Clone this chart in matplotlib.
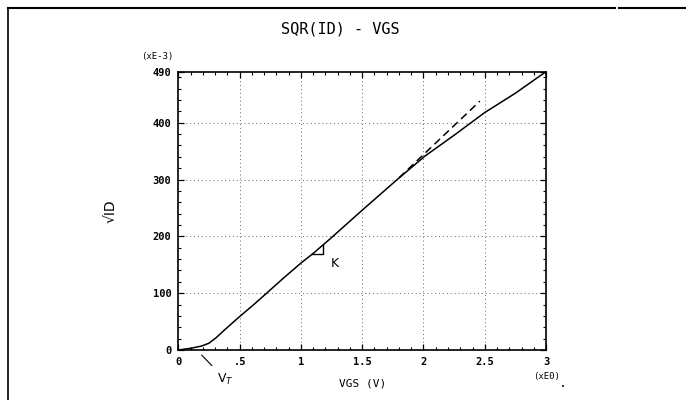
import matplotlib
matplotlib.use("Agg")
import matplotlib.pyplot as plt
from matplotlib.lines import Line2D
from matplotlib.ticker import MultipleLocator, FixedLocator

# sqrt(ID) vs VGS, y in units of 1E-3
vgs = [0.0, 0.10, 0.19, 0.25, 0.31, 0.37, 0.49, 0.61, 0.72, 0.86, 1.00, 1.10,
       1.24, 1.51, 1.78, 2.01, 2.25, 2.50, 2.75, 3.00]
sqrt_id = [0, 3, 7, 12, 22, 34, 57, 79, 100, 127, 153, 170,
           196, 248, 299, 341, 378, 418, 452, 490]

# linear extrapolation of the strong-inversion part
fit_vgs = [1.80, 2.46]
fit_sqrt_id = [303, 438]

# slope triangle K
k_vgs = [1.09, 1.18, 1.18]
k_sqrt_id = [169, 169, 185]

x_ticks = [0, 0.5, 1, 1.5, 2, 2.5, 3]
x_ticklabels = ["0", ".5", "1", "1.5", "2", "2.5", "3"]
y_ticks = [0, 100, 200, 300, 400, 490]
y_ticklabels = ["0", "100", "200", "300", "400", "490"]

mono = "DejaVu Sans Mono"

fig = plt.figure(figsize=(6.86, 4.0), dpi=100)
ax = fig.add_axes([0.260, 0.125, 0.536, 0.696])

ax.plot(vgs, sqrt_id, color="black", lw=1.1)
ax.plot(fit_vgs, fit_sqrt_id, color="black", lw=1.1, dashes=(5, 3))
ax.plot(k_vgs, k_sqrt_id, color="black", lw=1.0)
ax.text(1.24, 152, "K", fontsize=9, ha="left", va="center")

ax.set_xlim(0, 3)
ax.set_ylim(0, 490)

ax.xaxis.set_major_locator(FixedLocator(x_ticks))
ax.yaxis.set_major_locator(FixedLocator(y_ticks))
ax.set_xticklabels(x_ticklabels, fontfamily=mono, fontsize=7.5, fontweight="bold")
ax.set_yticklabels(y_ticklabels, fontfamily=mono, fontsize=7.5, fontweight="bold")
ax.xaxis.set_minor_locator(MultipleLocator(0.1))
ax.yaxis.set_minor_locator(MultipleLocator(20))
ax.tick_params(which="both", direction="in", top=True, right=True, color="black")
ax.tick_params(which="major", length=4, width=0.9, pad=5)
ax.tick_params(which="minor", length=2.5, width=0.8)

for v in x_ticks[1:-1]:
    ax.axvline(v, color="#666666", lw=0.7, ls=(0, (1, 3)), zorder=0)
for v in y_ticks[1:-1]:
    ax.axhline(v, color="#666666", lw=0.7, ls=(0, (1, 3)), zorder=0)

for s in ax.spines.values():
    s.set_linewidth(1.2)

ax.set_xlabel("VGS (V)", fontfamily=mono, fontsize=8, labelpad=8)
ax.set_ylabel("√ID", fontsize=10, labelpad=25)

fig.text(0.496, 0.928, "SQR(ID) - VGS", fontfamily=mono, fontsize=11,
         ha="center", va="center")
fig.text(0.229, 0.858, "(xE-3)", fontfamily=mono, fontsize=6.5,
         ha="center", va="center")
fig.text(0.797, 0.060, "(xE0)", fontfamily=mono, fontsize=6.5,
         ha="center", va="center")
fig.text(0.820, 0.033, "•", fontsize=5, ha="center", va="center")

# threshold voltage marker
ax.annotate("V$_T$", xy=(0.19, -9), xytext=(0.38, -51),
            fontsize=9, ha="center", va="center", annotation_clip=False,
            arrowprops=dict(arrowstyle="-", color="black", lw=0.8,
                            shrinkA=3, shrinkB=0))

# page frame
fig.add_artist(Line2D([0.0117, 0.897], [0.98, 0.98], color="black", lw=1.5))
fig.add_artist(Line2D([0.902, 1.0], [0.98, 0.98], color="black", lw=1.5))
fig.add_artist(Line2D([0.0117, 0.0117], [0.0, 0.98], color="black", lw=1.2))

fig.savefig("out.png", dpi=100, facecolor="white")
